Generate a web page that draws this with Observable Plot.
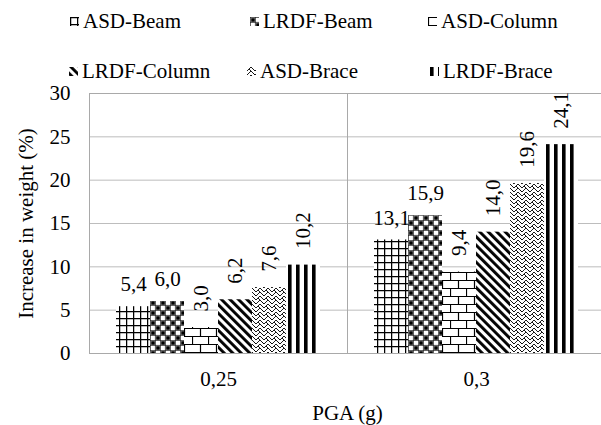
<!DOCTYPE html>
<html><head><meta charset="utf-8">
<script src="https://cdn.jsdelivr.net/npm/d3@7"></script>
<script src="https://cdn.jsdelivr.net/npm/@observablehq/plot@0.6"></script>
<style>
body{margin:0;background:#fff;}
#wrap{position:relative;width:601px;height:425px;overflow:hidden;font-family:'Liberation Serif',serif;color:#000;}
#legend{position:relative;width:601px;height:80px;}
.item{position:absolute;display:flex;align-items:center;font-size:21px;line-height:21px;height:21px;white-space:nowrap;font-weight:normal;}
.item svg{margin-right:4px;display:block;}
#chart svg{display:block;}
#chart svg text{font-family:'Liberation Serif',serif;}
</style></head>
<body>
<svg width="0" height="0" style="position:absolute">
<defs>
<pattern id="pat0" patternUnits="userSpaceOnUse" width="7" height="7"><rect width="7" height="7" fill="#fff"/><path d="M0,0.6H7M0.6,0V7" stroke="#000" stroke-width="1.3"/></pattern>
<pattern id="pat1" patternUnits="userSpaceOnUse" width="10" height="10"><rect width="10" height="10" fill="#fff"/><path d="M0,0.4H10M0,5.4H10M0.4,0V10M5.4,0V10" stroke="#222" stroke-width="0.8"/><rect x="1.2" y="1.2" width="3.6" height="3.6" fill="#000"/><rect x="6.2" y="6.2" width="3.6" height="3.6" fill="#000"/></pattern>
<pattern id="pat2" patternUnits="userSpaceOnUse" width="16" height="16"><rect width="16" height="16" fill="#fff"/><path d="M0,0.5H16M0,8.5H16M0.5,0V8M8.5,8V16" stroke="#000" stroke-width="1.2"/></pattern>
<pattern id="pat3" patternUnits="userSpaceOnUse" width="6" height="6" patternTransform="rotate(-45)"><rect width="6" height="6" fill="#fff"/><rect width="2.9" height="6" fill="#000"/></pattern>
<pattern id="pat4" patternUnits="userSpaceOnUse" width="8" height="8"><rect width="8" height="8" fill="#fff"/><path d="M0,4L4,0L8,4M0,8L4,4L8,8M2,2L4,4M6,6L8,8" stroke="#000" stroke-width="0.9" fill="none"/></pattern>
<pattern id="pat5" patternUnits="userSpaceOnUse" width="8" height="8"><rect width="8" height="8" fill="#fff"/><rect width="3.6" height="8" fill="#000"/></pattern>
</defs></svg>
<div id="wrap"><div id="legend"></div><div id="chart"></div></div>
<script>
// ---- data ----
const pga = ["0,25", "0,3"];
const series = ["ASD-Beam", "LRDF-Beam", "ASD-Column", "LRDF-Column", "ASD-Brace", "LRDF-Brace"];
const valuesPga025 = [5.4, 6.0, 3.0, 6.2, 7.6, 10.2];
const valuesPga03 = [13.1, 15.9, 9.4, 14.0, 19.6, 24.1];
const yTicks = [0, 5, 10, 15, 20, 25, 30];

// ---- build table ----
const table = [];
[valuesPga025, valuesPga03].forEach((vals, gi) => {
  vals.forEach((v, si) => table.push({pga: pga[gi], series: series[si], value: v}));
});
const fmt = v => v.toFixed(1).replace(".", ",");
const patternUrl = series.map((s, i) => `url(#pat${i})`);
const horizontalLabelSeries = new Set(["ASD-Beam", "LRDF-Beam"]);
const FONT = "'Liberation Serif', serif";

// ---- legend ----
const legendPos = [[70, 21], [250, 21], [428, 21], [69, 71], [247, 71], [430, 71]];
const legend = document.getElementById("legend");
series.forEach((s, i) => {
  const d = document.createElement("div");
  d.className = "item";
  d.style.left = legendPos[i][0] + "px";
  d.style.top = (legendPos[i][1] - 10) + "px";
  d.innerHTML = `<svg width="9" height="9"><rect width="9" height="9" fill="${patternUrl[i]}"/></svg><span style="font-family:'Liberation Serif',serif">${s}</span>`;
  legend.appendChild(d);
});

// ---- chart ----
const chart = Plot.plot({
  width: 601,
  height: 345,
  marginTop: 13,
  marginBottom: 72,
  marginLeft: 89,
  marginRight: -4,
  style: {fontFamily: FONT, fontSize: "21px", color: "#000", background: "#fff"},
  fx: {domain: pga, padding: 0, axis: "bottom", label: "PGA (g)", labelAnchor: "center", tickSize: 0, tickPadding: 18, labelOffset: 66},
  x: {domain: series, paddingInner: 0, paddingOuter: 0.78, axis: null},
  y: {domain: [0, 30], ticks: yTicks, tickSize: 0, tickPadding: 19, label: "Increase in weight (%)", labelAnchor: "center", labelOffset: 71, labelArrow: "none"},
  color: {type: "ordinal", domain: series, range: patternUrl},
  marks: [
    Plot.ruleY(yTicks, {stroke: "#bdbdbd", strokeWidth: 1}),
    Plot.frame({stroke: "#a9a9a9"}),
    Plot.barY(table, {fx: "pga", x: "series", y: "value", fill: "series"}),
    Plot.text(table.filter(d => horizontalLabelSeries.has(d.series)), {
      fx: "pga", x: "series", y: "value", text: d => fmt(d.value), dy: -22, lineAnchor: "middle", fill: "#000"
    }),
    Plot.text(table.filter(d => !horizontalLabelSeries.has(d.series)), {
      fx: "pga", x: "series", y: "value", text: d => fmt(d.value), rotate: -90, textAnchor: "start", dy: -16, lineAnchor: "middle", fill: "#000"
    })
  ]
});
document.getElementById("chart").appendChild(chart);
</script>
</body></html>
